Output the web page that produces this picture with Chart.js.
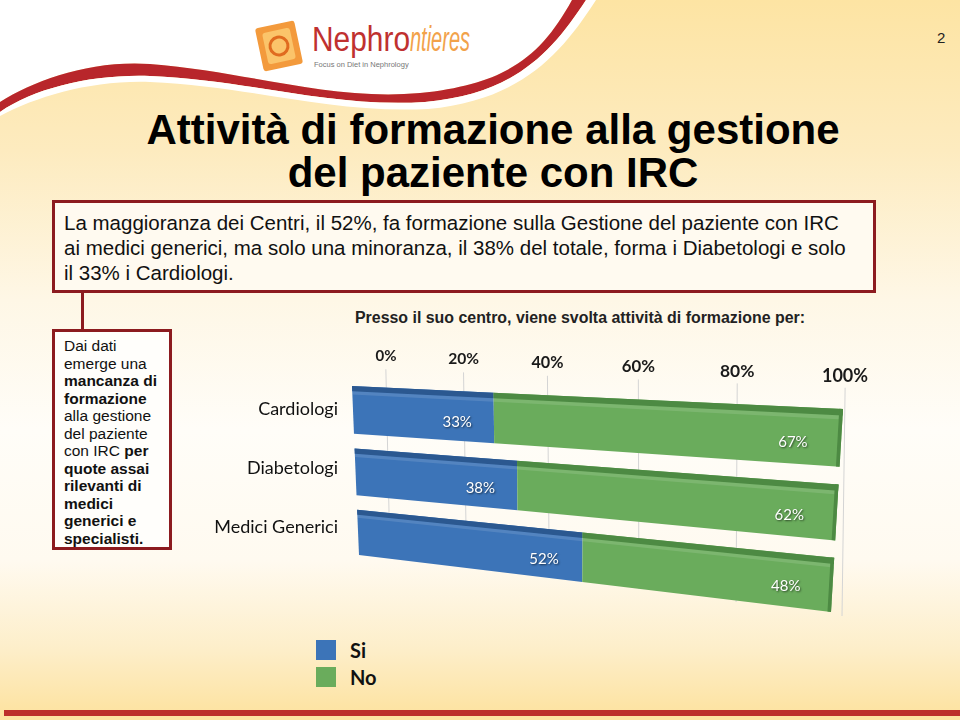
<!DOCTYPE html>
<html lang="it">
<head>
<meta charset="utf-8">
<title>Attività di formazione alla gestione del paziente con IRC</title>
<script src="https://cdn.jsdelivr.net/npm/chart.js@4.4.1/dist/chart.umd.min.js"></script>
<style>
  html, body { margin: 0; padding: 0; }
  body {
    width: 960px; height: 720px; overflow: hidden; position: relative;
    font-family: "Liberation Sans", Arial, sans-serif;
    background: linear-gradient(to bottom, #fde4a3 0px, #fdebbf 150px, #fef7e6 300px,
      #fffdf8 430px, #fffaf0 560px, #fdeec9 650px, #fde3a2 712px);
  }
  #header { position: absolute; left: 0; top: 0; }
  #pageNum { position: absolute; left: 937px; top: 29px; font-size: 15px; color: #222; }
  .fit { position: absolute; display: inline-block; white-space: nowrap; transform-origin: 0 0; }
  #logoA { left: 312px; top: 19px; font-size: 35px; color: #c0312f; }
  #logoB { left: 410px; top: 19px; font-size: 35px; color: #f2a24a; font-style: italic; }
  #logoTag { position: absolute; left: 314px; top: 60px; font-size: 7.5px; color: #777; white-space: nowrap; }
  #title {
    position: absolute; left: 0; top: 108px; width: 986px; text-align: center;
    font-weight: bold; font-size: 42px; line-height: 43px; color: #000;
  }
  #box1 {
    position: absolute; left: 52px; top: 200px; width: 809px; height: 87px;
    border: 3px solid #8c1b1f; background: #fffaf0;
    font-size: 20.5px; line-height: 25px; color: #111; padding: 0 0 0 9px;
  }
  #box1 div { padding-top: 7px; }
  #connector { position: absolute; left: 81px; top: 292px; width: 3px; height: 38px; background: #8c1b1f; }
  #box2 {
    position: absolute; left: 52px; top: 329px; width: 114px; height: 215px;
    border: 3px solid #8c1b1f; background: #fffefb;
    font-size: 15.5px; line-height: 17.5px; color: #111;
  }
  #box2 div { padding: 5px 0 0 9px; }
  #subtitle { left: 355px; top: 309px; font-weight: bold; font-size: 16px; color: #222; }
  #chartWrap { position: absolute; left: 200px; top: 330px; width: 680px; height: 300px; }
  #legend { position: absolute; left: 316px; top: 636px; font-family: Lato, sans-serif; }
  #legend .item { height: 27px; display: flex; align-items: center; }
  #legend .sw { width: 20px; height: 20px; margin-right: 14px; }
  #legend .lb { font-size: 20px; font-weight: bold; color: #111; }
  #bottomLine { position: absolute; left: 4px; top: 710px; width: 956px; height: 6px; background: #bd2f2b; }
</style>
</head>
<body>
<svg id="header" width="960" height="120" viewBox="0 0 960 120">
  <path d="M0,0 L572,0 C540,58 505,84 420,93 C330,101 250,72 150,64 C90,60 35,80 0,102 Z" fill="#ffffff"/>
  <path d="M556,0 L572,0 C540,58 505,84 420,93 C330,101 250,72 150,64 C90,60 35,80 0,102 L0,112 C35,88 92,74 150,76 C250,80 330,108 425,102 C515,94 552,52 586,0 Z" fill="#b8262b"/>
  <path d="M586,0 L596,0 C560,56 520,100 428,109 C330,114 250,86 150,82 C92,80 38,96 0,116 L0,112 C35,88 92,74 150,76 C250,80 330,108 425,102 C515,94 552,52 586,0 Z" fill="#ffffff"/>
  <g transform="translate(279,46) rotate(-12)">
    <rect x="-20" y="-22" width="40" height="44" rx="3" fill="#f39a3c"/>
    <rect x="-14" y="-16" width="28" height="32" rx="3" fill="#fbc46a"/>
    <circle cx="0" cy="0" r="9" fill="none" stroke="#e06b1f" stroke-width="3"/>
  </g>
</svg>
<div id="logoA" class="fit" data-w="98">Nephro</div>
<div id="logoB" class="fit" data-w="60">ntieres</div>
<div id="logoTag">Focus on Diet in Nephrology</div>
<div id="pageNum">2</div>

<div id="title">Attività di formazione alla gestione<br>del paziente con IRC</div>

<div id="box1"><div>La maggioranza dei Centri, il 52%, fa formazione sulla Gestione del paziente con IRC<br>ai medici generici, ma solo una minoranza, il 38% del totale, forma i Diabetologi e solo<br>il 33% i Cardiologi.</div></div>
<div id="connector"></div>
<div id="box2"><div>Dai dati<br>emerge una<br><b>mancanza di<br>formazione</b><br>alla gestione<br>del paziente<br>con IRC <b>per<br>quote assai<br>rilevanti di<br>medici<br>generici e<br>specialisti.</b></div></div>

<div id="subtitle" class="fit" data-w="450">Presso il suo centro, viene svolta attività di formazione per:</div>

<div id="chartWrap"><canvas id="chart"></canvas></div>
<div id="legend"></div>
<div id="bottomLine"></div>

<script>
// categories and values (percent of centres)
const categories = ['Cardiologi', 'Diabetologi', 'Medici Generici'];
const seriesNames = ['Si', 'No'];
const siValues = [33, 38, 52];
const noValues = [67, 62, 48];
const tickValues = [0, 20, 40, 60, 80, 100];
const seriesColors = ['#3c74b8', '#6aac5c'];
const topColors = ['#2b5890', '#4d8a43'];

// condensed text: squeeze to the measured width
document.querySelectorAll('.fit').forEach(el => {
  const w = el.getBoundingClientRect().width;
  el.style.transform = 'scaleX(' + (+el.dataset.w / w) + ')';
});

// perspective of the 3D bars: flat plot corners -> canvas quad
const barQuad = [[152, 56], [643, 79], [631, 282], [159, 225]];
const gridQuad = [[186, 46], [645, 66], [642, 286], [190, 226]];

function homography(src, dst) {
  const A = [], b = [];
  for (let i = 0; i < 4; i++) {
    const [x, y] = src[i], [X, Y] = dst[i];
    A.push([x, y, 1, 0, 0, 0, -x * X, -y * X]); b.push(X);
    A.push([0, 0, 0, x, y, 1, -x * Y, -y * Y]); b.push(Y);
  }
  const n = 8;
  for (let c = 0; c < n; c++) {
    let p = c;
    for (let r = c + 1; r < n; r++) if (Math.abs(A[r][c]) > Math.abs(A[p][c])) p = r;
    [A[c], A[p]] = [A[p], A[c]];
    [b[c], b[p]] = [b[p], b[c]];
    for (let r = c + 1; r < n; r++) {
      const f = A[r][c] / A[c][c];
      for (let k = c; k < n; k++) A[r][k] -= f * A[c][k];
      b[r] -= f * b[c];
    }
  }
  const h = new Array(n);
  for (let r = n - 1; r >= 0; r--) {
    let s = b[r];
    for (let k = r + 1; k < n; k++) s -= A[r][k] * h[k];
    h[r] = s / A[r][r];
  }
  return (x, y) => {
    const w = h[6] * x + h[7] * y + 1;
    return [(h[0] * x + h[1] * y + h[2]) / w, (h[3] * x + h[4] * y + h[5]) / w];
  };
}

function fillPoly(ctx, pts, color) {
  ctx.beginPath();
  ctx.moveTo(pts[0][0], pts[0][1]);
  for (let i = 1; i < pts.length; i++) ctx.lineTo(pts[i][0], pts[i][1]);
  ctx.closePath();
  ctx.fillStyle = color;
  ctx.fill();
}

function geometry(chart) {
  const xs = chart.scales.x;
  const meta = chart.getDatasetMeta(0).data;
  const first = meta[0], last = meta[meta.length - 1];
  const x0 = xs.getPixelForValue(0), x1 = xs.getPixelForValue(100);
  const yTop = first.y - first.height / 2, yBot = last.y + last.height / 2;
  const src = [[x0, yTop], [x1, yTop], [x1, yBot], [x0, yBot]];
  return { xs, yTop, yBot, H: homography(src, barQuad), G: homography(src, gridQuad) };
}

const perspectiveBars = {
  id: 'perspectiveBars',
  beforeDatasetsDraw(chart) {
    const ctx = chart.ctx;
    const g = geometry(chart);
    chart.$geo = g;
    ctx.save();
    // back-wall grid lines
    ctx.strokeStyle = '#d4d4d4';
    ctx.lineWidth = 1;
    tickValues.forEach(v => {
      const px = g.xs.getPixelForValue(v);
      const a = g.G(px, g.yTop - 6), b = g.G(px, g.yBot);
      ctx.beginPath();
      ctx.moveTo(a[0], a[1]);
      ctx.lineTo(b[0], b[1]);
      ctx.stroke();
    });
    // tick labels on top
    ctx.fillStyle = '#1a1a1a';
    ctx.textAlign = 'center';
    ctx.textBaseline = 'middle';
    tickValues.forEach(v => {
      const px = g.xs.getPixelForValue(v);
      const p = g.G(px, g.yTop);
      ctx.font = 'bold ' + (15 + 3 * v / 100) + 'px Lato, sans-serif';
      ctx.fillText(v + '%', p[0], p[1] - 20);
    });
    ctx.restore();
  },
  beforeDatasetDraw() {
    return false; // bars are drawn in perspective below
  },
  afterDatasetsDraw(chart) {
    const ctx = chart.ctx;
    const g = chart.$geo;
    const H = g.H;
    const quad = (xa, xb, ya, yb) => [H(xa, ya), H(xb, ya), H(xb, yb), H(xa, yb)];
    ctx.save();
    const n = chart.data.labels.length;
    for (let j = 0; j < n; j++) {
      chart.data.datasets.forEach((ds, i) => {
        const b = chart.getDatasetMeta(i).data[j];
        const xa = Math.min(b.base, b.x), xb = Math.max(b.base, b.x);
        const ya = b.y - b.height / 2, yb = b.y + b.height / 2;
        fillPoly(ctx, quad(xa, xb, ya, yb), seriesColors[i]);
        fillPoly(ctx, quad(xa, xb, ya, ya + 5), topColors[i]);
        fillPoly(ctx, quad(xa, xb, ya + 5, ya + 8), 'rgba(255,255,255,0.12)');
        if (i === chart.data.datasets.length - 1) {
          fillPoly(ctx, quad(xb - 3, xb, ya, yb), topColors[i]);
        }
      });
    }
    // white % labels
    ctx.font = '15px Lato, sans-serif';
    ctx.textAlign = 'center';
    ctx.textBaseline = 'middle';
    ctx.fillStyle = '#ffffff';
    ctx.shadowColor = 'rgba(0,0,0,0.6)';
    ctx.shadowBlur = 2;
    ctx.shadowOffsetX = 1;
    ctx.shadowOffsetY = 1;
    chart.data.datasets.forEach((ds, i) => {
      chart.getDatasetMeta(i).data.forEach((b, j) => {
        const xb = Math.max(b.base, b.x);
        const p = H(xb - 40, b.y + 0.12 * b.height);
        ctx.fillText(ds.data[j] + '%', p[0], p[1]);
      });
    });
    ctx.restore();
  }
};

const chart = new Chart(document.getElementById('chart'), {
  type: 'bar',
  data: {
    labels: categories,
    datasets: [
      { label: seriesNames[0], data: siValues, backgroundColor: seriesColors[0] },
      { label: seriesNames[1], data: noValues, backgroundColor: seriesColors[1] }
    ]
  },
  options: {
    indexAxis: 'y',
    responsive: true,
    maintainAspectRatio: false,
    animation: false,
    categoryPercentage: 0.76,
    barPercentage: 1,
    layout: { padding: { left: 0, right: 40, top: 50, bottom: 73 } },
    scales: {
      x: {
        display: false,
        stacked: true,
        min: 0,
        max: 100
      },
      y: {
        stacked: true,
        afterFit(scale) { scale.width = 155; },
        grid: { display: false },
        border: { display: false },
        ticks: {
          padding: 9,
          color: '#111',
          font: { family: 'Lato, sans-serif', size: 18 }
        }
      }
    },
    plugins: {
      legend: { display: false },
      tooltip: { enabled: false }
    }
  },
  plugins: [perspectiveBars]
});

// vertical legend below the chart, built from the datasets
const legendEl = document.getElementById('legend');
chart.data.datasets.forEach(ds => {
  const item = document.createElement('div');
  item.className = 'item';
  item.innerHTML = '<span class="sw" style="background:' + ds.backgroundColor + '"></span><span class="lb">' + ds.label + '</span>';
  legendEl.appendChild(item);
});
</script>
</body>
</html>
